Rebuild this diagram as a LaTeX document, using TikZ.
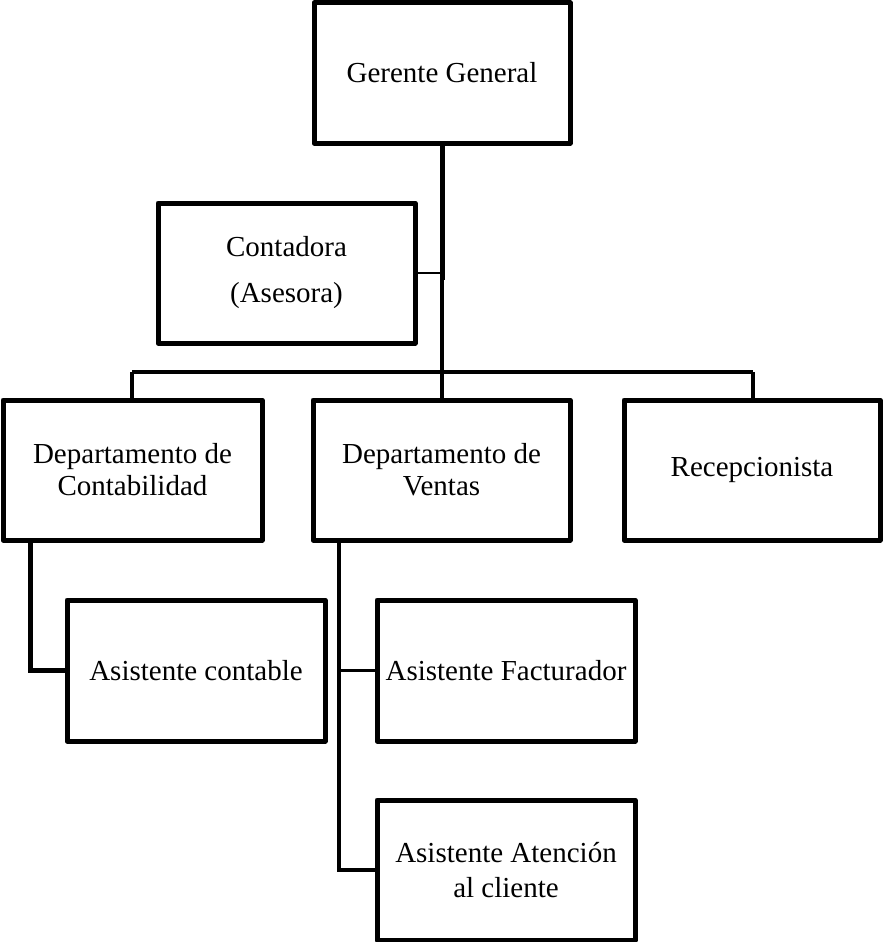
\documentclass[tikz,border=0pt]{standalone}
\usepackage{fontspec}
\setmainfont{Liberation Serif}
\begin{document}
\begin{tikzpicture}[x=1pt,y=-1pt,
  box/.style={draw=black,line width=5pt,line join=round,rectangle,inner sep=0pt,
    minimum width=257pt,minimum height=140pt,align=center,
    font=\fontsize{29}{32}\selectfont},
  link/.style={draw=black,line width=4pt,line join=miter},
  thinlink/.style={draw=black,line width=2.5pt}]
\useasboundingbox (0,0) rectangle (883,942);
% boxes
\node[box,minimum width=256pt] (gg) at (442,73) {Gerente General};
\node[box,font=\fontsize{29}{46}\selectfont] (cont) at (286.5,273) {Contadora\\(Asesora)};
\node[box,minimum width=259pt] (dc) at (132.5,470) {Departamento de\\Contabilidad};
\node[box] (dv) at (441.5,470) {Departamento de\\Ventas};
\node[box,minimum width=256pt] (rec) at (752,470) {Recepcionista};
\node[box,minimum width=258pt,minimum height=141pt] (ac) at (196,670.5) {Asistente contable};
\node[box,minimum width=258pt,minimum height=141pt] (af) at (506,670.5) {Asistente Facturador};
\node[box,minimum width=258pt,font=\fontsize{29}{35}\selectfont] (aa) at (506,870) {Asistente Atención\\al cliente};
% junction points
\coordinate (bar) at (442,372);
\coordinate (barl) at (132,372);
\coordinate (barr) at (753,372);
\coordinate (dcdrop) at (30,540);
\coordinate (dvdrop) at (339,540);
% connectors
\draw[link,line width=5pt] (gg.south) -- (442,280);
\draw[link] (442,280) -- (bar);
\draw[link] (barl) -- (barr);
\draw[link] (barl) -- (dc.north -| barl);
\draw[link] (bar) -- (dv.north -| bar);
\draw[link] (barr) -- (rec.north -| barr);
\draw[thinlink] (cont.east) -- (cont.east -| bar);
\draw[link,line width=5pt] (dcdrop) |- (ac.west);
\draw[link] (dvdrop) |- (aa.west);
\draw[thinlink,line width=3pt] (dvdrop |- af.west) -- (af.west);
\end{tikzpicture}
\end{document}
